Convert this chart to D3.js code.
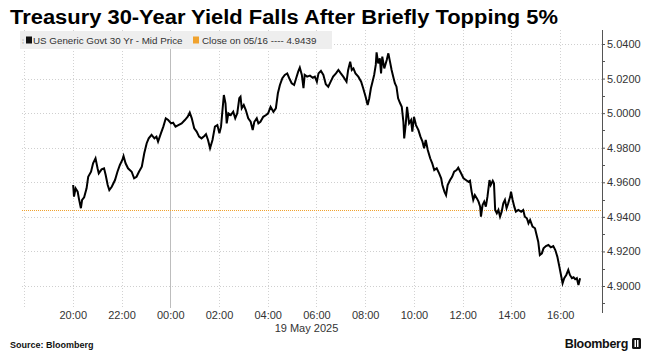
<!DOCTYPE html>
<html><head><meta charset="utf-8">
<script src="https://cdn.jsdelivr.net/npm/d3@7"></script>
<style>
html,body{margin:0;padding:0;background:#fff;}
svg{display:block;}
text{font-family:"Liberation Sans",Arial,sans-serif;}
</style></head>
<body><svg id="chart" width="651" height="359"></svg>
<script>
const titleText = "Treasury 30-Year Yield Falls After Briefly Topping 5%";
const seriesName = "US Generic Govt 30 Yr - Mid Price";
const closeLabel = "Close on 05/16 ---- 4.9439";
const closeValue = 4.9439;
const dateLabel = "19 May 2025";
const sourceText = "Source: Bloomberg";
const yTicks = [4.90, 4.92, 4.94, 4.96, 4.98, 5.00, 5.02, 5.04];
const yMinorTicks = [4.89, 4.91, 4.93, 4.95, 4.97, 4.99, 5.01, 5.03];
const xTickHours = ["18:00","20:00","22:00","00:00","02:00","04:00","06:00","08:00","10:00","12:00","14:00","16:00"];
const times = ["20:01","20:03","20:07","20:12","20:15","20:20","20:23","20:28","20:34","20:38","20:45","20:50","20:56","21:01","21:04","21:11","21:17","21:21","21:26","21:30","21:36","21:44","21:50","21:56","22:02","22:05","22:10","22:16","22:25","22:31","22:37","22:43","22:50","22:56","23:02","23:07","23:14","23:21","23:26","23:30","23:37","23:43","23:49","23:55","00:02","00:07","00:13","00:20","00:28","00:36","00:43","00:48","00:53","00:59","01:05","01:11","01:17","01:24","01:28","01:33","01:38","01:44","01:50","01:56","02:01","02:05","02:09","02:12","02:16","02:19","02:23","02:29","02:35","02:40","02:45","02:50","02:53","02:56","03:01","03:06","03:12","03:18","03:23","03:27","03:33","03:37","03:42","03:49","03:56","04:01","04:07","04:14","04:20","04:25","04:30","04:36","04:42","04:48","04:53","04:59","05:05","05:10","05:15","05:19","05:24","05:28","05:31","05:37","05:44","05:51","05:56","06:01","06:05","06:11","06:17","06:23","06:29","06:35","06:41","06:48","06:54","07:00","07:06","07:14","07:18","07:23","07:27","07:31","07:36","07:43","07:50","07:55","08:01","08:06","08:10","08:14","08:18","08:22","08:26","08:28","08:32","08:36","08:39","08:42","08:47","08:53","08:57","09:01","09:05","09:09","09:13","09:17","09:21","09:26","09:30","09:34","09:36","09:40","09:43","09:48","09:53","09:56","10:00","10:05","10:11","10:16","10:21","10:25","10:29","10:34","10:40","10:45","10:50","10:56","11:02","11:07","11:10","11:15","11:19","11:23","11:29","11:34","11:39","11:45","11:49","11:56","12:02","12:08","12:14","12:18","12:22","12:26","12:30","12:35","12:39","12:43","12:45","12:49","12:53","12:57","13:01","13:06","13:09","13:14","13:17","13:20","13:24","13:28","13:32","13:36","13:40","13:44","13:48","13:52","13:57","13:59","14:03","14:07","14:11","14:17","14:24","14:29","14:33","14:38","14:42","14:46","14:52","14:58","15:02","15:06","15:10","15:15","15:19","15:25","15:31","15:37","15:43","15:48","15:53","15:58","16:02","16:06","16:10","16:15","16:20","16:24","16:29","16:33","16:37","16:41","16:45","16:49"];
const yields = [4.9584,4.9517,4.9565,4.9546,4.9507,4.9450,4.9498,4.9513,4.9565,4.9632,4.9661,4.9710,4.9739,
4.9681,4.9652,4.9675,4.9681,4.9642,4.9584,4.9555,4.9574,4.9613,4.9661,4.9700,4.9729,4.9752,
4.9710,4.9681,4.9661,4.9623,4.9632,4.9661,4.9690,4.9768,4.9826,4.9854,4.9874,4.9854,4.9864,4.9835,4.9883,4.9922,4.9970,4.9960,
4.9941,4.9945,4.9922,4.9931,4.9941,4.9960,4.9979,5.0003,4.9970,4.9912,4.9893,4.9864,4.9854,4.9868,
4.9878,4.9845,4.9797,4.9845,4.9922,4.9931,4.9883,4.9922,5.0028,5.0105,5.0057,4.9941,4.9999,4.9989,5.0008,4.9970,4.9999,
5.0086,5.0095,5.0028,5.0047,5.0018,4.9970,4.9950,4.9902,4.9950,4.9970,4.9941,4.9950,4.9979,4.9989,4.9999,
5.0037,5.0008,5.0028,5.0115,5.0163,5.0202,5.0221,5.0230,5.0202,5.0173,5.0163,5.0202,5.0240,5.0263,
5.0221,5.0144,5.0221,5.0211,5.0217,5.0205,5.0211,5.0182,5.0230,5.0244,5.0221,5.0167,5.0153,5.0182,5.0211,5.0230,5.0250,
5.0230,5.0211,5.0182,5.0250,5.0298,5.0250,5.0259,5.0230,5.0211,5.0182,5.0144,5.0095,5.0047,5.0086,5.0144,5.0182,5.0221,
5.0279,5.0352,5.0288,5.0317,5.0230,5.0327,5.0259,5.0307,5.0346,5.0298,5.0250,5.0211,5.0173,5.0153,5.0086,5.0057,5.0037,
4.9950,4.9854,4.9941,5.0037,4.9941,4.9960,4.9893,4.9979,4.9931,4.9902,4.9864,4.9835,4.9797,4.9845,4.9787,4.9739,4.9710,
4.9671,4.9681,4.9652,4.9623,4.9584,4.9546,4.9526,4.9584,4.9613,4.9632,4.9661,4.9671,4.9684,4.9652,
4.9623,4.9613,4.9603,4.9609,4.9546,4.9498,4.9526,4.9507,4.9488,4.9459,4.9401,4.9469,4.9488,4.9459,4.9517,4.9613,4.9584,4.9609,4.9594,
4.9440,4.9421,4.9440,4.9401,4.9430,4.9478,4.9498,4.9450,4.9478,4.9517,4.9546,4.9498,4.9459,4.9430,4.9440,4.9430,4.9440,4.9401,4.9392,
4.9363,4.9382,4.9343,4.9334,4.9295,4.9256,4.9179,4.9189,4.9218,4.9231,4.9237,4.9224,4.9231,4.9208,4.9170,4.9112,
4.9064,4.9016,4.9045,4.9064,4.9093,4.9064,4.9045,4.9050,4.9039,4.9045,4.9006,4.9045];

function toDate(hm){
  const [h,m] = hm.split(":").map(Number);
  return new Date(2025, 4, h >= 17 ? 18 : 19, h, m);
}
const data = times.slice(0, Math.min(times.length, yields.length)).map((t,i)=>({t:toDate(t), v:yields[i]}));

const svg = d3.select("#chart");
svg.append("rect").attr("width",651).attr("height",359).attr("fill","#fff");

const plotL = 22, plotR = 602, plotT = 30, plotB = 308;
const x = d3.scaleTime().domain([new Date(2025,4,18,17,55), new Date(2025,4,19,17,43)]).range([plotL, plotR]);
const y = d3.scaleLinear().domain([4.90, 5.04]).range([286, 44]);

// title
svg.append("text").attr("x",10).attr("y",24).text(titleText)
  .attr("font-family","'DejaVu Sans',sans-serif").attr("font-weight","bold").attr("font-size",19.5)
  .attr("fill","#000").attr("textLength",548).attr("lengthAdjust","spacingAndGlyphs");

// horizontal grid
svg.append("g").selectAll("line").data(yTicks).join("line")
  .attr("x1",plotL).attr("x2",plotR).attr("y1",d=>Math.round(y(d))+0.5).attr("y2",d=>Math.round(y(d))+0.5)
  .attr("stroke","#cfcfcf").attr("stroke-width",1).attr("stroke-dasharray","1,2");

// vertical grid
svg.append("g").selectAll("line").data(xTickHours).join("line")
  .attr("x1",d=>Math.round(x(toDate(d)))+0.5).attr("x2",d=>Math.round(x(toDate(d)))+0.5)
  .attr("y1",plotT).attr("y2",plotB)
  .attr("stroke",d=>d==="00:00"?"#bdbdbd":"#d2d2d2").attr("stroke-width",1)
  .attr("stroke-dasharray",d=>d==="00:00"?null:"1,2");

// close line
svg.append("line").attr("x1",plotL).attr("x2",plotR)
  .attr("y1",Math.round(y(closeValue))+0.5).attr("y2",Math.round(y(closeValue))+0.5)
  .attr("stroke","#f0a22e").attr("stroke-width",1).attr("stroke-dasharray","1,1");

// legend
const lg = svg.append("g");
lg.append("rect").attr("x",20).attr("y",31).attr("width",312).attr("height",18).attr("fill","#eeeeee");
lg.append("text").attr("x",22).attr("y",43.5).attr("font-size",7).attr("fill","#999").text("⁞");
lg.append("rect").attr("x",26).attr("y",36.5).attr("width",6).attr("height",7).attr("fill","#111");
lg.append("text").attr("x",33).attr("y",43.5).attr("font-size",9.8).attr("fill","#333").text(seriesName);
lg.append("rect").attr("x",193).attr("y",36.5).attr("width",6).attr("height",7).attr("fill","#f0a22e");
lg.append("text").attr("x",202).attr("y",43.5).attr("font-size",9.8).attr("fill","#333").text(closeLabel);

// data line
svg.append("path").datum(data)
  .attr("d", d3.line().x(d=>x(d.t)).y(d=>y(d.v)))
  .attr("fill","none").attr("stroke","#000").attr("stroke-width",2).attr("stroke-linejoin","miter");

// y axis
const yAxis = d3.axisRight(y).tickValues(yTicks).tickFormat(d3.format(".4f")).tickSize(3).tickPadding(2);
const ya = svg.append("g").attr("transform",`translate(${plotR},0)`).call(yAxis);
ya.select(".domain").remove();
ya.selectAll("text").attr("font-size",11).attr("fill","#333").attr("font-family","'Liberation Sans',Arial,sans-serif");
ya.selectAll("line").attr("stroke","#555");
svg.append("g").selectAll("line").data(yMinorTicks).join("line")
  .attr("x1",plotR).attr("x2",plotR+3).attr("y1",d=>Math.round(y(d))+0.5).attr("y2",d=>Math.round(y(d))+0.5)
  .attr("stroke","#555");
svg.append("line").attr("x1",plotR+0.5).attr("x2",plotR+0.5).attr("y1",plotT).attr("y2",313).attr("stroke","#555");

// x labels
const xa = d3.axisBottom(x).tickValues(xTickHours.slice(1).map(toDate)).tickFormat(d3.timeFormat("%H:%M")).tickSize(0).tickPadding(0);
const xg = svg.append("g").attr("transform",`translate(0,311)`).call(xa);
xg.select(".domain").remove();
xg.selectAll("text").attr("font-size",11).attr("fill","#333").attr("font-family","'Liberation Sans',Arial,sans-serif").attr("dy","0.71em");

svg.append("text").attr("x",x(new Date(2025,4,19,6,0))-10).attr("y",332).attr("text-anchor","middle")
  .attr("font-size",11).attr("fill","#333").text(dateLabel);

// footer
svg.append("text").attr("x",10).attr("y",348).attr("font-size",9).attr("font-weight","bold").attr("fill","#111").text(sourceText);
svg.append("text").attr("x",628).attr("y",348).attr("text-anchor","end").attr("font-size",12.5).attr("font-weight","bold")
  .attr("fill","#111").attr("letter-spacing",-0.3).text("Bloomberg");
svg.append("rect").attr("x",632).attr("y",338).attr("width",9).attr("height",11).attr("rx",1.5).attr("fill","#111");
svg.append("rect").attr("x",634.5).attr("y",340).attr("width",1.5).attr("height",7).attr("fill","#fff");
svg.append("rect").attr("x",637).attr("y",340).attr("width",1.5).attr("height",7).attr("fill","#fff");
</script></body></html>
